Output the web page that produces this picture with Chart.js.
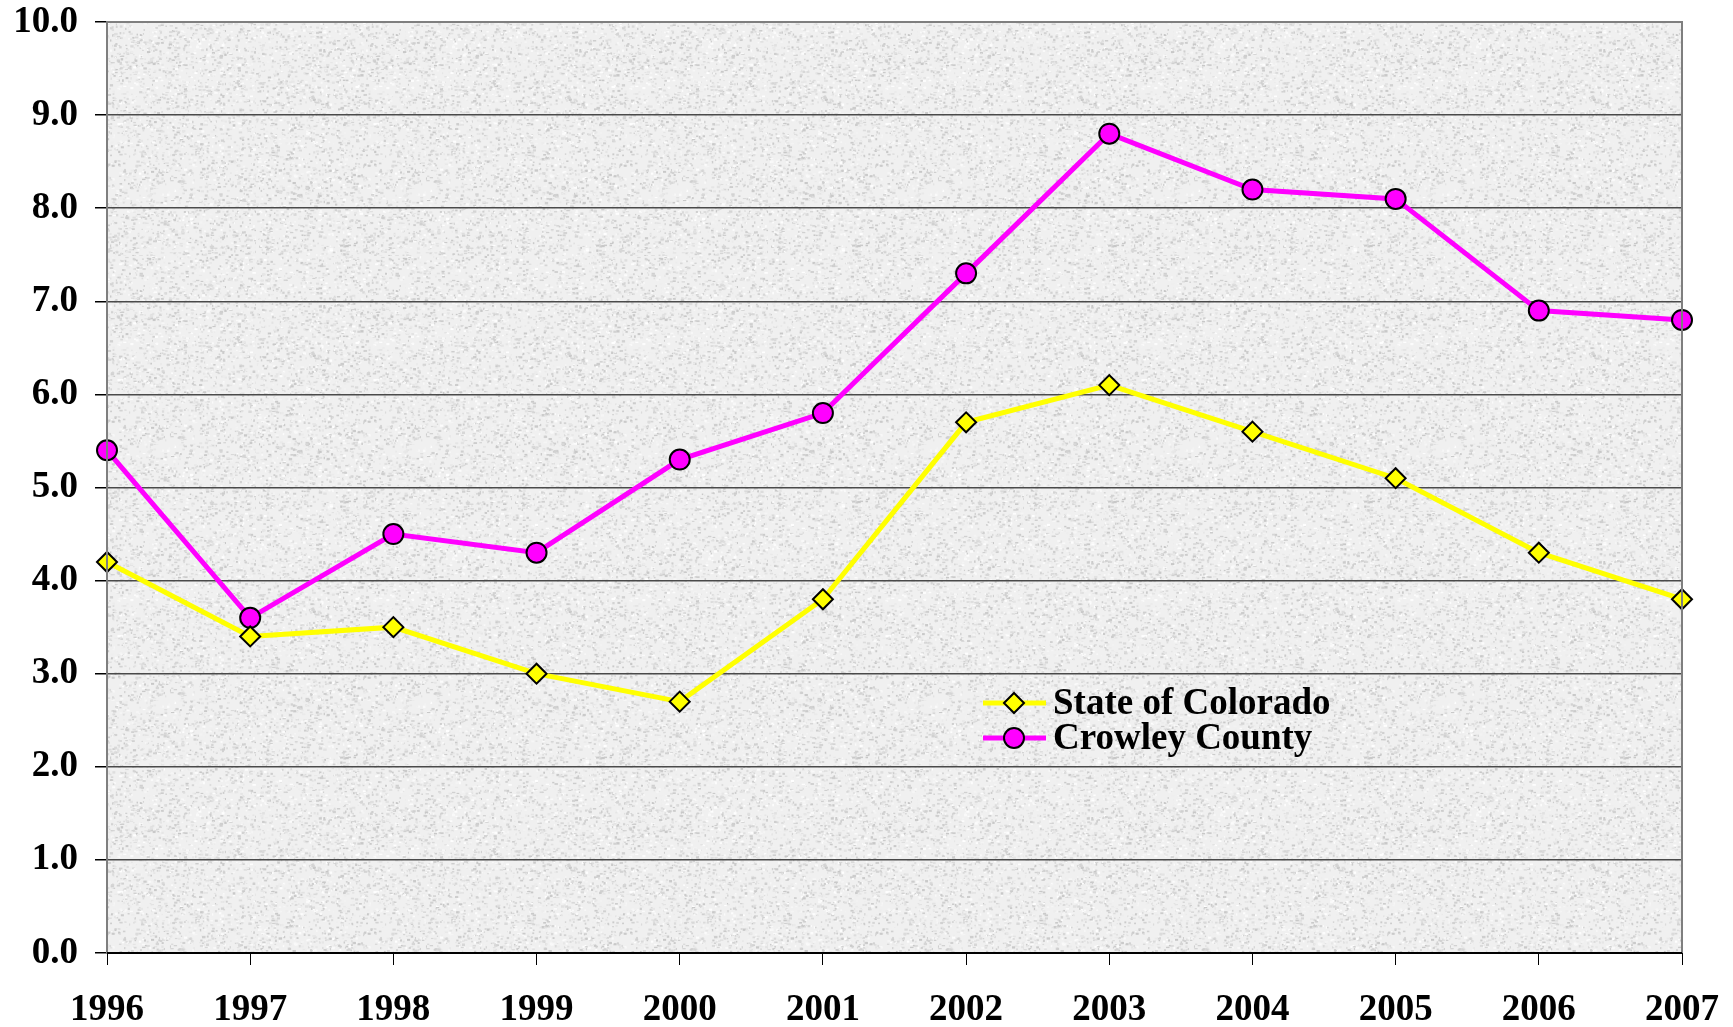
<!DOCTYPE html>
<html>
<head>
<meta charset="utf-8">
<script src="https://cdn.jsdelivr.net/npm/chart.js@4.4.1/dist/chart.umd.min.js"></script>
<style>
  html, body { margin: 0; padding: 0; background: #fff; }
  #wrap { width: 1733px; height: 1027px; }
</style>
</head>
<body>
<div id="wrap"><canvas id="lineChart"></canvas></div>
<script>
const years = ['1996', '1997', '1998', '1999', '2000', '2001', '2002', '2003', '2004', '2005', '2006', '2007'];
const coloradoValues = [4.2, 3.4, 3.5, 3.0, 2.7, 3.8, 5.7, 6.1, 5.6, 5.1, 4.3, 3.8];
const crowleyValues = [5.4, 3.6, 4.5, 4.3, 5.3, 5.8, 7.3, 8.8, 8.2, 8.1, 6.9, 6.8];
const seriesNames = ['State of Colorado', 'Crowley County'];

const fontFamily = '"Liberation Serif", "Times New Roman", serif';

// speckled grey texture for the plot area
function makeTexture() {
    const c = document.createElement('canvas');
    c.width = 256; c.height = 256;
    const g = c.getContext('2d');
    g.fillStyle = '#f0f0f0';
    g.fillRect(0, 0, 256, 256);
    let seed = 12345;
    const rnd = () => { seed = (seed * 1103515245 + 12345) & 0x7fffffff; return seed / 0x7fffffff; };
    for (let i = 0; i < 6000; i++) {
        const x = rnd() * 256, y = rnd() * 256;
        const v = Math.floor(200 + rnd() * 55);
        g.fillStyle = 'rgb(' + v + ',' + v + ',' + v + ')';
        g.fillRect(x, y, 1 + rnd() * 2.5, 1 + rnd() * 1.5);
    }
    return c;
}
const texture = makeTexture();

const plotFrame = {
    id: 'plotFrame',
    beforeDraw(chart) {
        const { ctx, chartArea: a } = chart;
        ctx.save();
        ctx.fillStyle = ctx.createPattern(texture, 'repeat');
        ctx.fillRect(a.left, a.top, a.right - a.left, a.bottom - a.top);
        ctx.restore();
    },
    afterDraw(chart) {
        const { ctx, chartArea: a } = chart;
        ctx.save();
        ctx.strokeStyle = '#7f7f7f';
        ctx.lineWidth = 2;
        ctx.beginPath();
        ctx.moveTo(a.left, a.bottom);
        ctx.lineTo(a.left, a.top);
        ctx.lineTo(a.right, a.top);
        ctx.lineTo(a.right, a.bottom);
        ctx.stroke();
        ctx.strokeStyle = '#000';
        ctx.beginPath();
        ctx.moveTo(a.left, a.bottom);
        ctx.lineTo(a.right, a.bottom);
        ctx.stroke();
        ctx.restore();
    }
};

const innerLegend = {
    id: 'innerLegend',
    afterDatasetsDraw(chart) {
        const { ctx } = chart;
        const x0 = 983, x1 = 1046, mx = 1014, tx = 1053;
        const rows = [703, 738];
        ctx.save();
        chart.data.datasets.forEach((ds, i) => {
            const y = rows[i];
            ctx.strokeStyle = ds.borderColor;
            ctx.lineWidth = ds.borderWidth;
            ctx.beginPath();
            ctx.moveTo(x0, y);
            ctx.lineTo(x1, y);
            ctx.stroke();
            ctx.fillStyle = ds.pointBackgroundColor;
            ctx.strokeStyle = ds.pointBorderColor;
            ctx.lineWidth = ds.pointBorderWidth;
            Chart.helpers.drawPoint(ctx, {
                pointStyle: ds.pointStyle,
                radius: ds.pointRadius,
                rotation: 0,
                borderWidth: ds.pointBorderWidth
            }, mx, y);
            ctx.fillStyle = '#000';
            ctx.font = 'bold 37px ' + fontFamily;
            ctx.textBaseline = 'middle';
            ctx.textAlign = 'left';
            ctx.fillText(ds.label, tx, y + 1);
        });
        ctx.restore();
    }
};

const ctxLine = document.getElementById('lineChart');

new Chart(ctxLine, {
    type: 'line',
    data: {
        labels: years,
        datasets: [{
            label: seriesNames[0],
            data: coloradoValues,
            borderColor: '#ffff00',
            borderWidth: 5,
            pointStyle: 'rectRot',
            pointRadius: 10,
            pointHoverRadius: 10,
            pointBackgroundColor: '#ffff00',
            pointBorderColor: '#000',
            pointBorderWidth: 2,
            tension: 0
        }, {
            label: seriesNames[1],
            data: crowleyValues,
            borderColor: '#ff00ff',
            borderWidth: 5,
            pointStyle: 'circle',
            pointRadius: 10,
            pointHoverRadius: 10,
            pointBackgroundColor: '#ff00ff',
            pointBorderColor: '#000',
            pointBorderWidth: 2,
            tension: 0
        }]
    },
    options: {
        responsive: true,
        maintainAspectRatio: false,
        animation: false,
        layout: { padding: { left: 0, right: 51, top: 22, bottom: 0 } },
        plugins: {
            legend: { display: false },
            tooltip: { enabled: false }
        },
        scales: {
            x: {
                offset: false,
                grid: {
                    drawOnChartArea: false,
                    drawTicks: true,
                    tickLength: 12,
                    color: '#000',
                    lineWidth: 1
                },
                border: { display: false },
                ticks: {
                    color: '#000',
                    font: { family: fontFamily, size: 37, weight: 'bold' },
                    padding: 23,
                    maxRotation: 0,
                    autoSkip: false
                },
                afterFit(scale) {
                    scale.height = 74;
                    scale.paddingLeft = 0;
                    scale.paddingRight = 0;
                }
            },
            y: {
                min: 0,
                max: 10,
                grid: {
                    color: '#4a4a4a',
                    lineWidth: 1.5,
                    tickLength: 12,
                    tickColor: '#000'
                },
                border: { display: false },
                ticks: {
                    stepSize: 1,
                    color: '#000',
                    font: { family: fontFamily, size: 37, weight: 'bold' },
                    padding: 17,
                    callback: (v) => Number(v).toFixed(1)
                },
                afterFit(scale) {
                    scale.width = 107;
                    scale.paddingTop = 0;
                    scale.paddingBottom = 0;
                }
            }
        }
    },
    plugins: [plotFrame, innerLegend]
});
</script>
</body>
</html>
